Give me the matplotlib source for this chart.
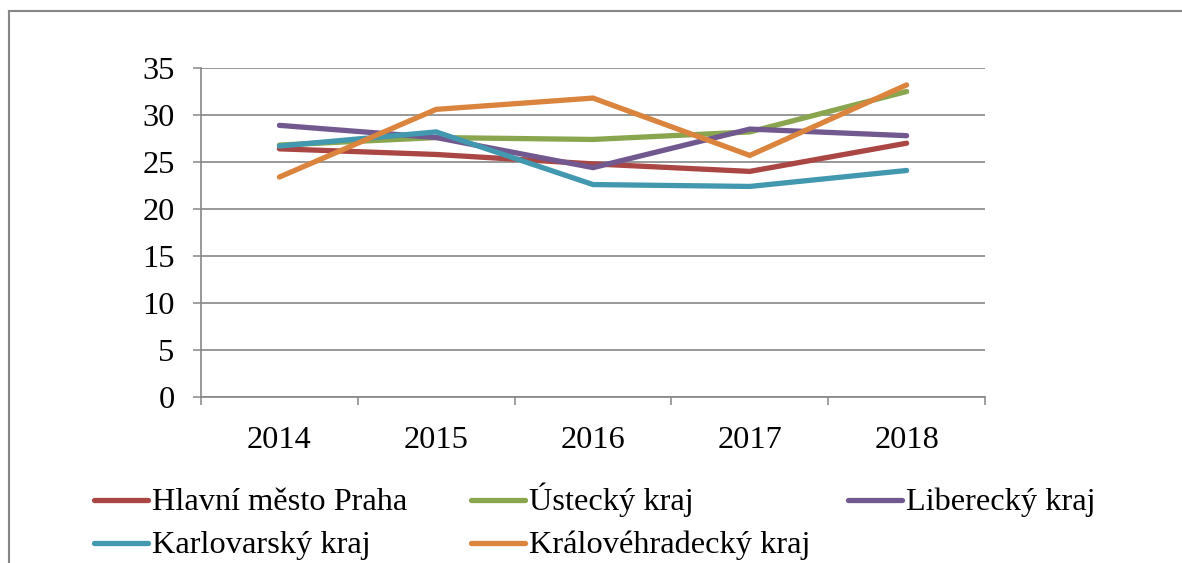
import matplotlib
matplotlib.use('Agg')

import matplotlib.pyplot as plt
from matplotlib.lines import Line2D

# data
years = ['2014', '2015', '2016', '2017', '2018']
praha = [26.4, 25.8, 24.8, 24.0, 27.0]
ustecky = [26.8, 27.6, 27.4, 28.2, 32.5]
liberecky = [28.9, 27.6, 24.4, 28.5, 27.8]
karlovarsky = [26.7, 28.2, 22.6, 22.4, 24.1]
kralovehradecky = [23.4, 30.6, 31.8, 25.7, 33.2]

series = [
    ('Hlavní město Praha', praha, '#AA4643'),
    ('Ústecký kraj', ustecky, '#89A54E'),
    ('Liberecký kraj', liberecky, '#71588F'),
    ('Karlovarský kraj', karlovarsky, '#4198AF'),
    ('Královéhradecký kraj', kralovehradecky, '#DB843D'),
]

plt.rcParams['font.family'] = ['Liberation Serif', 'DejaVu Serif']
W, H = 1182, 563
grey = '#868686'
fs = 23.3

fig = plt.figure(figsize=(W / 100, H / 100), dpi=100)
ax = fig.add_axes([201 / W, 1 - 397 / H, 784 / W, 329 / H])

x = list(range(len(years)))
for name, vals, col in series:
    ax.plot(x, vals, color=col, linewidth=3.8, solid_capstyle='round',
            solid_joinstyle='miter', label=name)

ax.set_xlim(-0.5, len(years) - 0.5)
ax.set_ylim(0, 35)
ax.set_yticks(range(0, 36, 5))
ax.set_xticks(x)
ax.set_xticklabels(years)
# tick marks between categories
ax.set_xticks([i - 0.5 for i in range(len(years) + 1)], minor=True)
ax.tick_params(axis='x', which='major', length=0, pad=21, labelsize=fs)
ax.tick_params(axis='x', which='minor', length=6, width=1.1, color=grey)
ax.tick_params(axis='y', length=6, width=1.1, color=grey, pad=13, labelsize=fs)

ax.grid(True, axis='y', color=grey, linewidth=1.2)
ax.set_axisbelow(True)
for s in ['top', 'right']:
    ax.spines[s].set_visible(False)
for s in ['left', 'bottom']:
    ax.spines[s].set_color(grey)
    ax.spines[s].set_linewidth(1.2)

# legend laid out like the office chart: equal column widths
for i, (name, vals, col) in enumerate(series):
    cx = 94 + (i % 3) * 377
    cy = 500 + (i // 3) * 43
    fig.add_artist(Line2D([cx / W, (cx + 54) / W], [1 - cy / H, 1 - cy / H],
                          color=col, linewidth=3.8, solid_capstyle='round'))
    fig.text((cx + 58) / W, 1 - (cy + 10) / H, name, fontsize=fs,
             va='baseline', ha='left')

# outer frame (only top and left edges visible)
fig.add_artist(Line2D([9 / W, 1], [1 - 11 / H, 1 - 11 / H], color=grey, linewidth=1.5))
fig.add_artist(Line2D([9 / W, 9 / W], [0, 1 - 11 / H], color=grey, linewidth=1.5))

plt.savefig('out.png', dpi=100)
plt.close()
